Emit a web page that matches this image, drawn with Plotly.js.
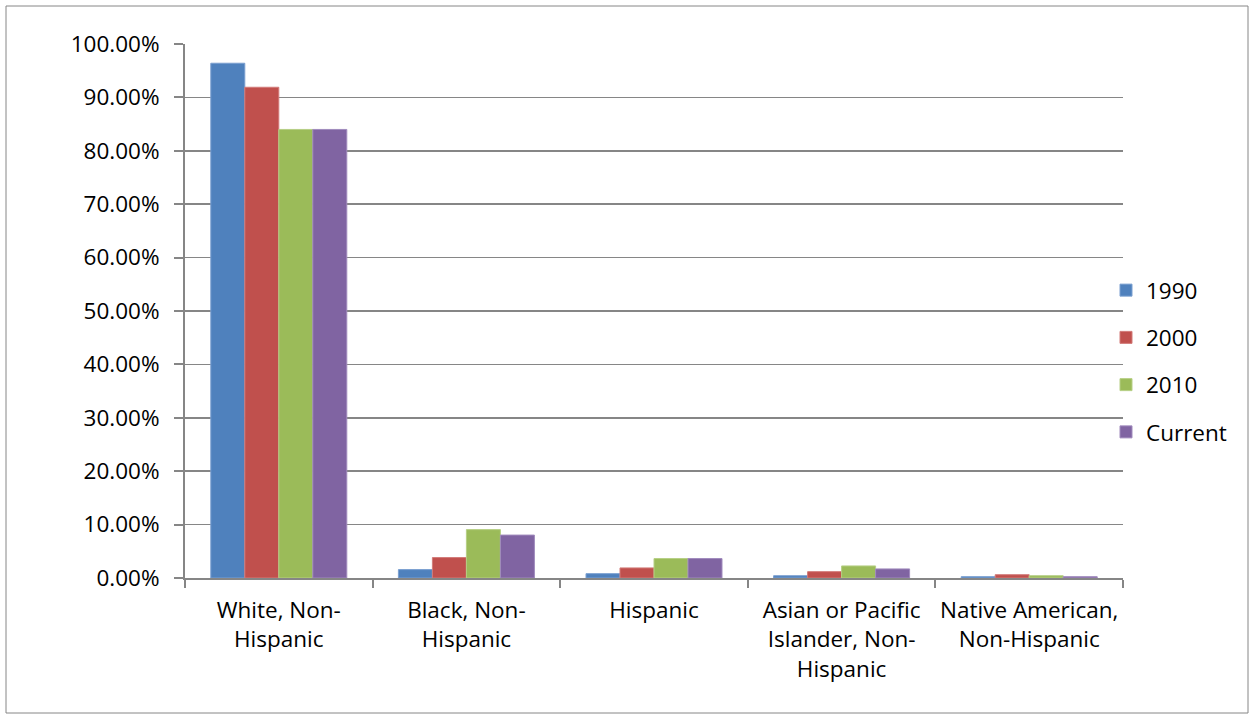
<!DOCTYPE html>
<html>
<head>
<meta charset="utf-8">
<script src="https://cdn.plot.ly/plotly-3.0.1.min.js"></script>
<style>
  html, body { margin: 0; padding: 0; background: #fff; }
  #chart { width: 1254px; height: 719px; }
</style>
</head>
<body>
<div id="chart"></div>
<script>
// Population share by race / ethnicity (percent)
const categories = [
  "White, Non-<br>Hispanic",
  "Black, Non-<br>Hispanic",
  "Hispanic",
  "Asian or Pacific<br>Islander, Non-<br>Hispanic",
  "Native American,<br>Non-Hispanic"
];
const seriesNames = ["1990", "2000", "2010", "Current"];
const values1990 = [96.4, 1.57, 0.81, 0.43, 0.25];
const values2000 = [91.9, 3.83, 1.89, 1.19, 0.62];
const values2010 = [84.0, 9.06, 3.64, 2.26, 0.43];
const valuesCurrent = [84.0, 8.04, 3.64, 1.70, 0.25];
const yTickValues = [0, 10, 20, 30, 40, 50, 60, 70, 80, 90, 100];
const yTickLabels = yTickValues.map(v => v.toFixed(2) + "%");

const seriesValues = [values1990, values2000, values2010, valuesCurrent];
const colors = ["#4F81BD", "#C0504D", "#9BBB59", "#8064A2"];
const edgeColors = ["#7a9fd0", "#d27b79", "#b6cf85", "#a08bbd"];

const traces = seriesNames.map((name, i) => ({
  type: "bar",
  name: name,
  x: categories,
  y: seriesValues[i],
  legendgroup: "g" + i,
  marker: { color: colors[i], line: { color: edgeColors[i], width: 1 } },
  hoverinfo: "x+y+name"
}));

const W = 1254, H = 719;
const m = { l: 185, r: 131, t: 44, b: 141 };
const pw = W - m.l - m.r, ph = H - m.t - m.b;
// outer chart frame, inset 6px from the page edge
const inset = 6;
const frame = {
  x0: (inset - m.l) / pw,
  x1: (W - inset - m.l) / pw,
  y0: -(m.b - inset) / ph,
  y1: (ph + m.t - inset) / ph
};
const gray = "#868686";
const fontFamily = "'Open Sans', Lato, sans-serif";
const fontSize = 22.5;

const layout = {
  width: W,
  height: H,
  margin: m,
  paper_bgcolor: "#fff",
  plot_bgcolor: "#fff",
  font: { family: fontFamily, size: fontSize, color: "#000" },
  barmode: "group",
  bargap: 0.275,
  bargroupgap: 0,
  showlegend: true,
  legend: {
    x: (1106 - m.l) / pw, xanchor: "left",
    y: (578 - 361) / ph, yanchor: "middle",
    font: { family: fontFamily, size: fontSize },
    tracegroupgap: 15,
    bgcolor: "rgba(0,0,0,0)"
  },
  xaxis: {
    type: "category",
    tickson: "boundaries",
    tickangle: 0,
    ticks: "outside",
    ticklen: 8,
    tickcolor: gray,
    tickwidth: 2,
    ticklabelstandoff: 11,
    showgrid: false,
    showline: true,
    linecolor: gray,
    linewidth: 2,
    tickfont: { family: fontFamily, size: fontSize },
    fixedrange: true
  },
  yaxis: {
    range: [0, 100],
    tickmode: "array",
    tickvals: yTickValues,
    ticktext: yTickLabels,
    ticks: "outside",
    ticklen: 9,
    tickcolor: gray,
    tickwidth: 2,
    ticklabelstandoff: 10,
    showgrid: true,
    gridcolor: gray,
    gridwidth: 1.5,
    zeroline: false,
    showline: true,
    linecolor: gray,
    linewidth: 2,
    tickfont: { family: fontFamily, size: fontSize },
    fixedrange: true
  },
  shapes: [{
    type: "rect", xref: "paper", yref: "paper",
    x0: frame.x0, x1: frame.x1, y0: frame.y0, y1: frame.y1,
    line: { color: gray, width: 1 },
    fillcolor: "rgba(0,0,0,0)",
    layer: "below"
  }]
};

Plotly.newPlot("chart", traces, layout, { displayModeBar: false, staticPlot: true });
</script>
</body>
</html>
